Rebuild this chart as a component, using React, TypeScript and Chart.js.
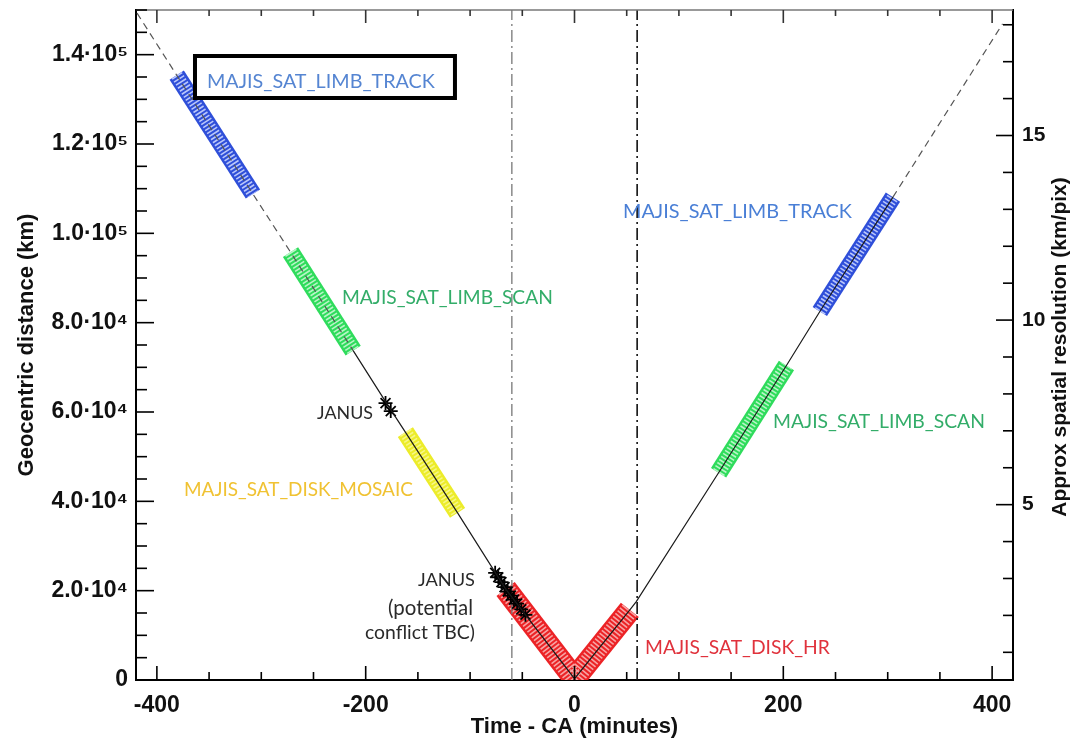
import React, { useEffect, useRef } from 'react';
import { Chart, registerables } from 'chart.js';

Chart.register(...registerables);

// ---------- axis tick labels ----------
const timeTickValues = [-400, -200, 0, 200, 400];
const timeTickLabels = ['-400', '-200', '0', '200', '400'];
const distanceTickValues = [0, 20000, 40000, 60000, 80000, 100000, 120000, 140000];
const distanceTickLabels = ['0', '2.0·10⁴', '4.0·10⁴', '6.0·10⁴', '8.0·10⁴', '1.0·10⁵', '1.2·10⁵', '1.4·10⁵'];
const resolutionTickValues = [5, 10, 15];
const resolutionTickLabels = ['5', '10', '15'];

// ---------- trajectory: time from CA (min) vs geocentric distance (km) ----------
const trackTime = [-419, -381, -308, -272, -212, -179, -162, -112, -66, 0, 53, 59, 138, 203, 235, 305, 410];
const trackDist = [149300, 135400, 108800, 95800, 73750, 61600, 55500, 37400, 20400, 300, 15700, 17500, 46400, 70400, 82500, 108100, 146900];

// ---------- observation blocks ----------
const limbTrackLeftTime = [-381, -308];
const limbTrackLeftDist = [135400, 108800];
const limbScanLeftTime = [-272, -212];
const limbScanLeftDist = [95800, 73750];
const diskMosaicTime = [-162, -112];
const diskMosaicDist = [55500, 37400];
const diskHrLeftTime = [-66, 0];
const diskHrLeftDist = [20400, 300];
const diskHrRightTime = [0, 53];
const diskHrRightDist = [300, 15700];
const limbScanRightTime = [138, 203];
const limbScanRightDist = [46400, 70400];
const limbTrackRightTime = [235, 305];
const limbTrackRightDist = [82500, 108100];

// ---------- JANUS ----------
const janusTime = [-181, -176];
const janusDist = [62000, 60200];
const janusConflictTime = [-76, -73, -70, -67, -64, -61, -58, -55, -51, -47];
const janusConflictDist = [24000, 23000, 21900, 20800, 19800, 18900, 18000, 17100, 15800, 14600];

// ---------- +/- 60 min window around CA ----------
const caWindowTime = [-60, 60];
const distanceRange = [0, 150000];

const pts = (xs: number[], ys: number[]) => xs.map((x, i) => ({ x, y: ys[i] }));

const NOTE_FONT = 'Lato, "Open Sans", sans-serif';
const AXIS_FONT = '"Liberation Sans", Arial, Helvetica, sans-serif';

// note texts: left/right extent and vertical centre in data units
const notes = [
  { text: 'MAJIS_SAT_LIMB_TRACK', x0: -352, x1: -133.6, y: 133900, color: '#5585d2' },
  { text: 'MAJIS_SAT_LIMB_TRACK', x0: 46.4, x1: 265.8, y: 104800, color: '#4a7fd6' },
  { text: 'MAJIS_SAT_LIMB_SCAN', x0: -222.7, x1: -20.6, y: 85500, color: '#33ad69' },
  { text: 'JANUS', x0: -246.6, x1: -193.0, y: 59800, color: '#2a2a2a' },
  { text: 'MAJIS_SAT_DISK_MOSAIC', x0: -374.0, x1: -154.7, y: 42500, color: '#f0c232' },
  { text: 'MAJIS_SAT_LIMB_SCAN', x0: 190.1, x1: 393.2, y: 57800, color: '#33ad69' },
  { text: 'JANUS', x0: -149.9, x1: -95.3, y: 22400, color: '#2a2a2a' },
  { text: '(potential', x0: -178.6, x1: -97.2, y: 16100, color: '#2a2a2a' },
  { text: 'conflict TBC)', x0: -200.7, x1: -95.3, y: 10500, color: '#2a2a2a' },
  { text: 'MAJIS_SAT_DISK_HR', x0: 67.5, x1: 244.7, y: 7200, color: '#e0323c' },
];
const noteBox = { x0: -363.5, x1: -114.5, y0: 139700, y1: 130300 };

const decorPlugin = {
  id: 'decor',
  afterDatasetsDraw(chart: any) {
    const { ctx, scales } = chart;
    const xs = scales.x;
    const ys = scales.y;
    ctx.save();
    const bx0 = xs.getPixelForValue(noteBox.x0);
    const bx1 = xs.getPixelForValue(noteBox.x1);
    const by0 = ys.getPixelForValue(noteBox.y0);
    const by1 = ys.getPixelForValue(noteBox.y1);
    ctx.fillStyle = '#ffffff';
    ctx.fillRect(bx0, by0, bx1 - bx0, by1 - by0);
    ctx.strokeStyle = '#000';
    ctx.lineWidth = 4;
    ctx.strokeRect(bx0, by0, bx1 - bx0, by1 - by0);
    for (const n of notes) {
      const px0 = xs.getPixelForValue(n.x0);
      const px1 = xs.getPixelForValue(n.x1);
      const py = ys.getPixelForValue(n.y);
      ctx.font = `20px ${NOTE_FONT}`;
      const m = ctx.measureText(n.text).width;
      const size = (20 * (px1 - px0)) / m;
      ctx.font = `${size.toFixed(2)}px ${NOTE_FONT}`;
      ctx.fillStyle = n.color;
      ctx.textAlign = 'left';
      ctx.textBaseline = 'middle';
      ctx.fillText(n.text, px0, py);
    }
    ctx.restore();
  },
  afterDraw(chart: any) {
    const { ctx, scales, chartArea } = chart;
    const { left, right, top, bottom } = chartArea;
    const xs = scales.x;
    const ys = scales.y;
    const y2 = scales.y2;
    ctx.save();
    ctx.strokeStyle = '#777';
    ctx.lineWidth = 1.5;
    ctx.beginPath();
    ctx.moveTo(left, top);
    ctx.lineTo(right, top);
    ctx.stroke();
    const seg = (a: number, b: number, c: number, d: number) => {
      ctx.beginPath();
      ctx.moveTo(a, b);
      ctx.lineTo(c, d);
      ctx.stroke();
    };
    ctx.lineWidth = 1.6;
    for (const t of xs.ticks) {
      const px = xs.getPixelForValue(t.value);
      const major = timeTickValues.includes(t.value);
      ctx.strokeStyle = '#000';
      seg(px, bottom, px, bottom - (major ? 14 : 8));
      ctx.strokeStyle = '#333';
      seg(px, top, px, top + (major ? 13 : 6));
    }
    ctx.strokeStyle = '#000';
    for (const t of ys.ticks) {
      const py = ys.getPixelForValue(t.value);
      const major = distanceTickValues.includes(t.value);
      seg(left, py, left + (major ? 18 : 11), py);
    }
    for (const t of y2.ticks) {
      const py = y2.getPixelForValue(t.value);
      const major = resolutionTickValues.includes(t.value);
      seg(right, py, right - (major ? 17 : 10), py);
    }
    ctx.fillStyle = '#111';
    ctx.textAlign = 'center';
    ctx.textBaseline = 'middle';
    ctx.font = `bold 22px ${AXIS_FONT}`;
    ctx.fillText('Time - CA (minutes)', (left + right) / 2, bottom + 47);
    ctx.save();
    ctx.translate(left - 109, (top + bottom) / 2);
    ctx.rotate(-Math.PI / 2);
    ctx.fillText('Geocentric distance (km)', 0, 0);
    ctx.restore();
    ctx.save();
    ctx.font = `bold 21px ${AXIS_FONT}`;
    ctx.translate(right + 47, (top + bottom) / 2 + 2);
    ctx.rotate(-Math.PI / 2);
    ctx.fillText('Approx spatial resolution (km/pix)', 0, 0);
    ctx.restore();
    ctx.restore();
  },
};

function band(times: number[], dists: number[], outer: string, inner: string, width: number) {
  const data = pts(times, dists);
  return [
    {
      data,
      borderColor: inner,
      borderWidth: width - 5,
      borderDash: [1.6, 2],
      borderCapStyle: 'butt',
      pointRadius: 0,
      order: 2,
    },
    {
      data,
      borderColor: outer,
      borderWidth: width,
      borderCapStyle: 'butt',
      pointRadius: 0,
      order: 3,
    },
  ];
}

const noPadVertical = (w: number) => (s: any) => {
  s.width = w;
  s.paddingTop = 0;
  s.paddingBottom = 0;
};

export default function App() {
  const ref = useRef<HTMLCanvasElement>(null);
  useEffect(() => {
    if (!ref.current) return;
    const datasets: any[] = [
      {
        data: pts(trackTime, trackDist),
        borderColor: '#1a1a1a',
        borderWidth: 1.2,
        pointRadius: 0,
        order: 0,
        segment: {
          borderDash: (c: any) => (c.p1.parsed.x <= -212 || c.p0.parsed.x >= 305 ? [7, 5] : undefined),
          borderColor: (c: any) => (c.p1.parsed.x <= -212 || c.p0.parsed.x >= 305 ? '#555' : undefined),
        },
      },
      {
        data: pts(janusTime, janusDist),
        showLine: false,
        pointStyle: 'star',
        pointRadius: 7,
        borderColor: '#000',
        borderWidth: 1.8,
        order: 0,
      },
      {
        data: pts(janusConflictTime, janusConflictDist),
        showLine: false,
        pointStyle: 'star',
        pointRadius: 7,
        borderColor: '#000',
        borderWidth: 1.8,
        order: 0,
      },
      {
        data: pts([caWindowTime[0], caWindowTime[0]], distanceRange),
        borderColor: '#777',
        borderWidth: 1.3,
        borderDash: [12, 4, 2, 4],
        pointRadius: 0,
        order: 1,
      },
      {
        data: pts([caWindowTime[1], caWindowTime[1]], distanceRange),
        borderColor: '#111',
        borderWidth: 1.6,
        borderDash: [12, 4, 2, 4],
        pointRadius: 0,
        order: 1,
      },
      ...band(limbTrackLeftTime, limbTrackLeftDist, '#2f4fd9', '#b9c6fb', 17),
      ...band(limbTrackRightTime, limbTrackRightDist, '#2f4fd9', '#b9c6fb', 17),
      ...band(limbScanLeftTime, limbScanLeftDist, '#2fdc5c', '#b8f5c6', 18),
      ...band(limbScanRightTime, limbScanRightDist, '#2fdc5c', '#b8f5c6', 18),
      ...band(diskMosaicTime, diskMosaicDist, '#ecec2a', '#f7f787', 18),
      ...band(diskHrLeftTime, diskHrLeftDist, '#ec2326', '#f7a3a3', 23),
      ...band(diskHrRightTime, diskHrRightDist, '#ec2326', '#f7a3a3', 23),
    ];

    const tickList = (from: number, to: number, step: number) => {
      const out: { value: number }[] = [];
      for (let v = from; v <= to + 1e-9; v += step) out.push({ value: v });
      return out;
    };

    const chart = new Chart(ref.current, {
      type: 'line',
      data: { datasets },
      options: {
        animation: false,
        responsive: false,
        devicePixelRatio: 1,
        layout: { padding: { top: 10, left: 0, right: 0, bottom: 0 } },
        plugins: { legend: { display: false }, tooltip: { enabled: false } },
        elements: { line: { tension: 0 } },
        scales: {
          x: {
            type: 'linear',
            position: 'bottom',
            min: -420,
            max: 420,
            afterBuildTicks: (s: any) => {
              s.ticks = tickList(-400, 400, 50);
            },
            ticks: {
              autoSkip: false,
              maxRotation: 0,
              padding: 12,
              color: '#111',
              font: { family: AXIS_FONT, size: 23, weight: 'bold' },
              callback: (v: any) => {
                const i = timeTickValues.indexOf(Number(v));
                return i >= 0 ? timeTickLabels[i] : '';
              },
            },
            grid: { display: false, drawTicks: false },
            border: { display: true, color: '#000', width: 2 },
            afterFit: (s: any) => {
              s.height = 62;
              s.paddingLeft = 0;
              s.paddingRight = 0;
            },
          },
          y: {
            type: 'linear',
            position: 'left',
            min: 0,
            max: 150000,
            afterBuildTicks: (s: any) => {
              s.ticks = tickList(0, 150000, 5000);
            },
            ticks: {
              autoSkip: false,
              padding: 8,
              color: '#111',
              font: { family: AXIS_FONT, size: 23, weight: 'bold' },
              callback: (v: any) => {
                const i = distanceTickValues.indexOf(Number(v));
                return i >= 0 ? distanceTickLabels[i] : '';
              },
            },
            grid: { display: false, drawTicks: false },
            border: { display: true, color: '#000', width: 2 },
            afterFit: noPadVertical(136),
          },
          y2: {
            type: 'linear',
            position: 'right',
            min: 0.25,
            max: 18.4,
            afterBuildTicks: (s: any) => {
              s.ticks = tickList(1, 18, 1);
            },
            ticks: {
              autoSkip: false,
              padding: 9,
              color: '#111',
              font: { family: AXIS_FONT, size: 21, weight: 'bold' },
              callback: (v: any) => {
                const i = resolutionTickValues.indexOf(Number(v));
                return i >= 0 ? resolutionTickLabels[i] : '';
              },
            },
            grid: { display: false, drawTicks: false },
            border: { display: true, color: '#000', width: 2 },
            afterFit: noPadVertical(64),
          },
        },
      } as any,
      plugins: [decorPlugin],
    });
    return () => chart.destroy();
  }, []);

  return (
    <div style={{ position: 'fixed', left: 0, top: 0, width: 1077, height: 742, background: '#fff' }}>
      <canvas ref={ref} width={1077} height={742} style={{ display: 'block' }} />
    </div>
  );
}
